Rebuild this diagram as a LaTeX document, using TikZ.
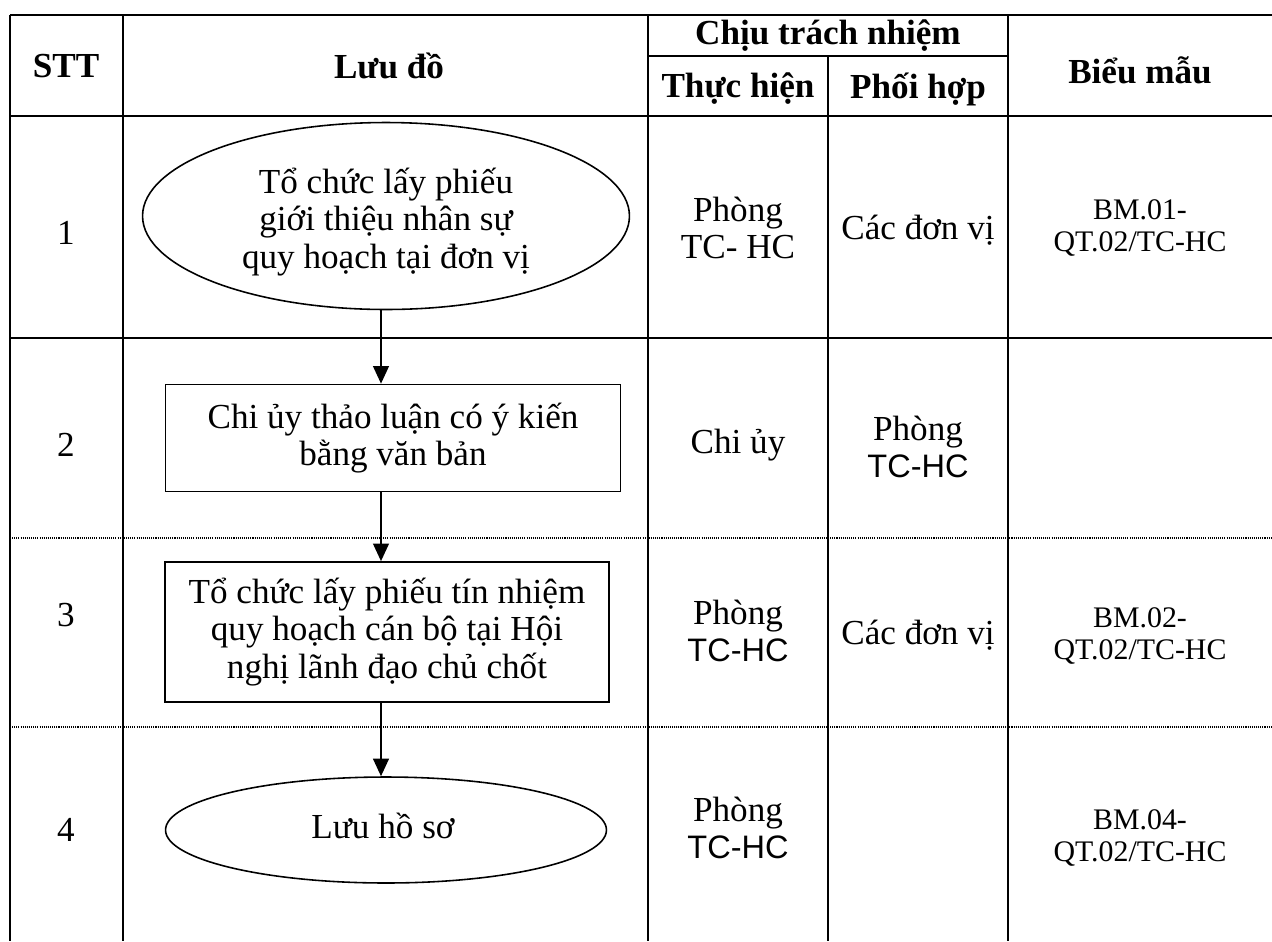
\documentclass[tikz,border=0pt]{standalone}
\usepackage{fontspec}
\setmainfont{Liberation Serif}
\newfontfamily\arialfont{Liberation Sans}
\newcommand{\tchc}{{\fontsize{18.5}{21.5}\arialfont TC-HC}}
\usetikzlibrary{shapes.geometric,arrows.meta}

\begin{document}
\begin{tikzpicture}[x=0.02cm,y=-0.02cm,
  every node/.style={font=\fontsize{20}{21.5}\selectfont, align=center, inner sep=0pt},
  head/.style={font=\fontsize{20}{21.5}\selectfont\bfseries},
  code/.style={font=\fontsize{17}{18.5}\selectfont},
  grid/.style={line width=1pt},
  dots/.style={line width=0.6pt, dash pattern=on 0.6pt off 0.6pt},
  oval/.style={draw, ellipse, line width=0.9pt},
  box/.style={draw, rectangle, line width=1pt},
  flow/.style={line width=1pt, -{Triangle[length=10pt,width=9pt]}}]
\useasboundingbox (0,0) rectangle (1272,941);
% table frame
\draw[grid] (10,15) -- (1272,15);
\draw[grid] (648,56) -- (1008,56);
\draw[grid] (10,116) -- (1272,116);
\draw[grid] (10,338) -- (1272,338);
\draw[dots] (10,538) -- (1272,538);
\draw[dots] (10,727) -- (1272,727);
\draw[grid] (10,15) -- (10,941);
\draw[grid] (123,15) -- (123,941);
\draw[grid] (648,15) -- (648,941);
\draw[grid] (828,56) -- (828,941);
\draw[grid] (1008,15) -- (1008,941);
% header
\node[head] (stt) at (66,66) {STT};
\node[head] (luudo) at (389,66) {Lưu đồ};
\node[head] (ctn) at (828,36) {Chịu trách nhiệm};
\node[head] (thuchien) at (738,89) {Thực hiện};
\node[head] (phoihop) at (918,89) {Phối hợp};
\node[head] (bieumau) at (1140,70) {Biểu mẫu};
% row 1
\node (n1) at (66,233) {1};
\node[oval, minimum width=9.74cm, minimum height=3.74cm] (e1) at (386,216) {};
\node (t1) at (386,222) {Tổ chức lấy phiếu\\giới thiệu nhân sự\\quy hoạch tại đơn vị};
\node (th1) at (738,228) {Phòng\\TC- HC};
\node (ph1) at (918,230) {Các đơn vị};
\node[code] (bm1) at (1140,228) {BM.01-\\QT.02/TC-HC};
% row 2
\node (n2) at (66,445) {2};
\node[box, minimum width=9.1cm, minimum height=2.14cm] (b2) at (393,438)
  {Chi ủy thảo luận có ý kiến\\bằng văn bản};
\node (th2) at (738,445) {Chi ủy};
\node (ph2) at (918,447) {Phòng\\\tchc};
% row 3
\node (n3) at (66,615) {3};
\node[box, minimum width=8.88cm, minimum height=2.8cm] (b3) at (387,632)
  {Tổ chức lấy phiếu tín nhiệm\\quy hoạch cán bộ tại Hội\\nghị lãnh đạo chủ chốt};
\node (th3) at (738,631) {Phòng\\\tchc};
\node (ph3) at (918,635) {Các đơn vị};
\node[code] (bm3) at (1140,636) {BM.02-\\QT.02/TC-HC};
% row 4
\node (n4) at (66,830) {4};
\node[oval, minimum width=8.82cm, minimum height=2.12cm] (e4) at (386,830) {};
\node (t4) at (383,826) {Lưu hồ sơ};
\node (th4) at (738,828) {Phòng\\\tchc};
\node[code] (bm4) at (1140,838) {BM.04-\\QT.02/TC-HC};
% arrows
\coordinate (ax) at (381,0);
\draw[flow] (e1.south -| ax) -- (b2.north -| ax);
\draw[flow] (b2.south -| ax) -- (b3.north -| ax);
\draw[flow] (b3.south -| ax) -- (e4.north -| ax);
\end{tikzpicture}
\end{document}
